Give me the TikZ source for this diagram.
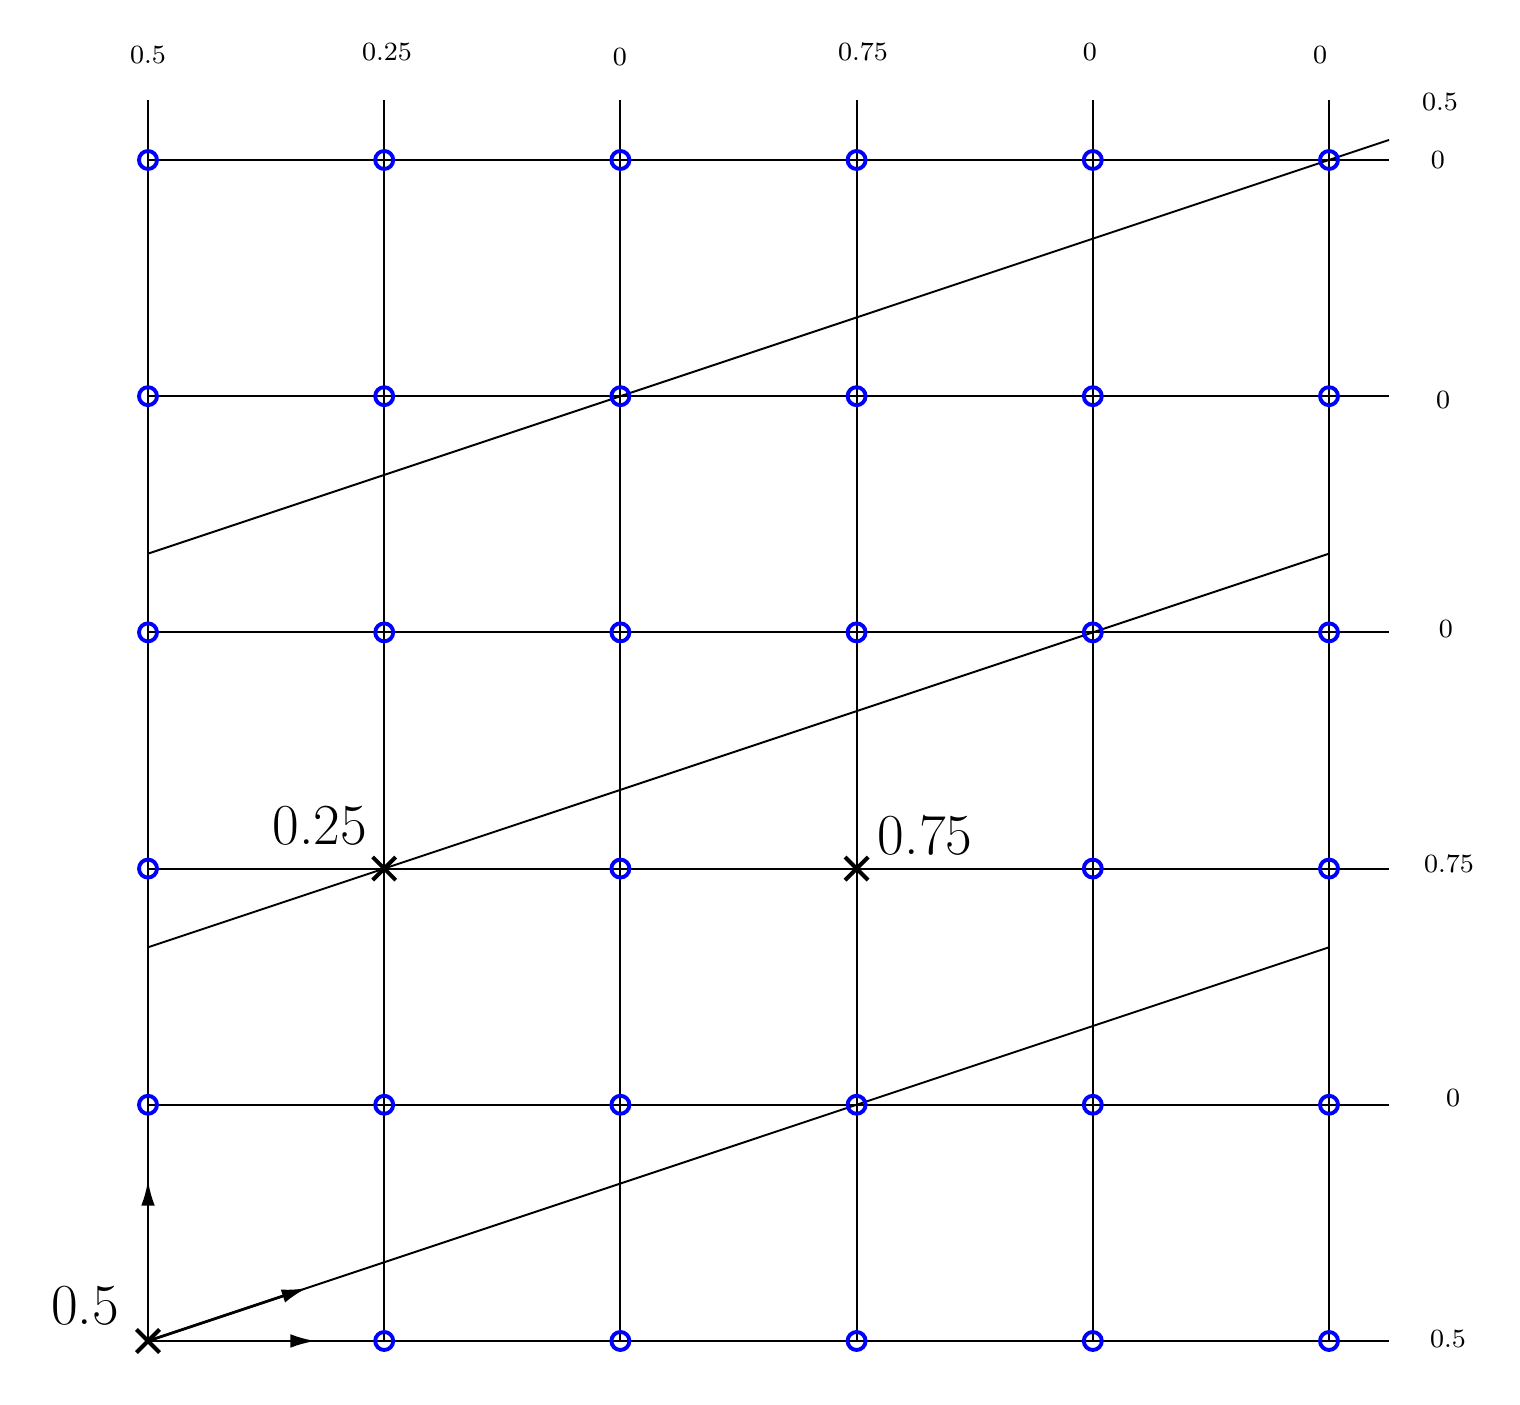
\documentclass[tikz,border=0pt]{standalone}
\usetikzlibrary{arrows.meta,shapes.misc}
\begin{document}
\begin{tikzpicture}[x=2.362cm,y=2.362cm,
  gridline/.style={line width=0.55pt},
  slantline/.style={line width=0.55pt},
  vec/.style={line width=0.8pt,-{Latex[length=7.2pt,width=3.9pt]}},
  pt/.style={circle,draw=blue,line width=1.1pt,minimum size=0.18cm,inner sep=0pt},
  xmark/.style={cross out,draw=black,line width=1.15pt,minimum size=0.19cm,inner sep=0pt},
  smalllab/.style={inner sep=0pt,font=\fontsize{7.5}{9}\selectfont},
  biglab/.style={inner sep=0pt,font=\fontsize{16.5}{20}\selectfont}]
\useasboundingbox (-0.6266,-0.271) rectangle (5.8087,5.6774);
% grid coordinates
\foreach \i in {0,...,5}{
  \foreach \j in {0,...,5}{
    \coordinate (g-\i-\j) at (\i,\j);
  }
  \coordinate (vt-\i) at (\i,5.254);
  \coordinate (hr-\i) at (5.254,\i);
}
% grid lines
\foreach \i in {0,...,5}{
  \draw[gridline] (g-\i-0) -- (vt-\i);
  \draw[gridline] (g-0-\i) -- (hr-\i);
}
% slanted lines
\coordinate (s1a) at (0,3.3333);
\coordinate (s1b) at (5.254,5.0847);
\coordinate (s2a) at (0,1.6667);
\coordinate (s2b) at (5,3.3333);
\coordinate (s3b) at (5,1.6667);
\draw[slantline] (s1a) -- (s1b);
\draw[slantline] (s2a) -- (s2b);
\draw[slantline] (g-0-0) -- (s3b);
% arrows
\coordinate (av) at (0,0.68);
\coordinate (ah) at (0.71,0);
\coordinate (as) at (0.673,0.2243);
\draw[vec] (g-0-0) -- (av);
\draw[vec] (g-0-0) -- (ah);
\draw[vec] (g-0-0) -- (as);
% circles
\foreach \i in {0,...,5}{
  \foreach \j in {0,...,5}{
    \pgfmathtruncatemacro{\skip}{(\i==0 && \j==0) || (\i==1 && \j==2) || (\i==3 && \j==2)}
    \ifnum\skip=0
      \node[pt] (c-\i-\j) at (g-\i-\j) {};
    \fi
  }
}
% crosses
\node[xmark] (x0) at (g-0-0) {};
\node[xmark] (x1) at (g-1-2) {};
\node[xmark] (x3) at (g-3-2) {};
% big labels
\node[biglab] (l0) at (-0.267,0.150) {0.5};
\node[biglab] (l1) at (0.728,2.180) {0.25};
\node[biglab] (l3) at (3.290,2.142) {0.75};
% top labels
\node[smalllab] (t0) at (0,5.445) {0.5};
\node[smalllab] (t1) at (1.012,5.457) {0.25};
\node[smalllab] (t2) at (1.998,5.436) {0};
\node[smalllab] (t3) at (3.027,5.457) {0.75};
\node[smalllab] (t4) at (3.988,5.457) {0};
\node[smalllab] (t5) at (4.962,5.445) {0};
% right labels
\node[smalllab] (r6) at (5.470,5.246) {0.5};
\node[smalllab] (r5) at (5.461,5.0) {0};
\node[smalllab] (r4) at (5.483,3.984) {0};
\node[smalllab] (r3) at (5.495,3.014) {0};
\node[smalllab] (r2) at (5.508,2.019) {0.75};
\node[smalllab] (r1) at (5.525,1.029) {0};
\node[smalllab] (r0) at (5.504,0.008) {0.5};
\end{tikzpicture}
\end{document}
